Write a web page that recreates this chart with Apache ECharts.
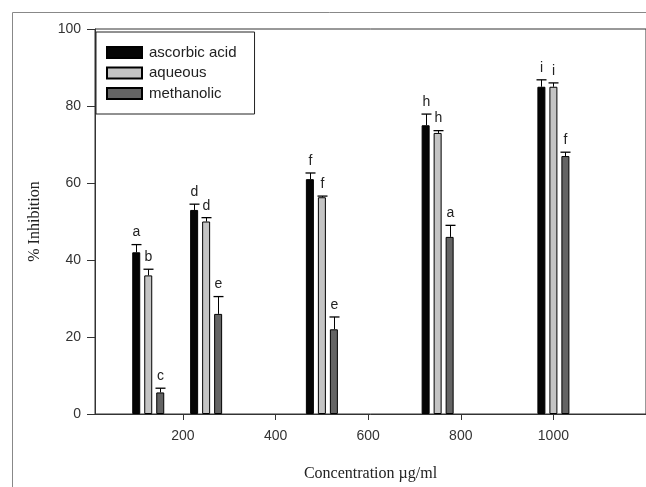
<!DOCTYPE html>
<html>
<head>
<meta charset="utf-8">
<script src="https://cdn.jsdelivr.net/npm/echarts@6/dist/echarts.min.js"></script>
<style>
  html, body { margin: 0; padding: 0; background: #fff; }
  #container { width: 646px; height: 487px; }
</style>
</head>
<body>
<div id="container"></div>
<script>
// concentrations (µg/ml) and readings
var concentrations = [125, 250, 500, 750, 1000];
var seriesNames = ['ascorbic acid', 'aqueous', 'methanolic'];
var ascorbic = [42, 53, 61, 75, 85];
var aqueous = [36, 50, 56.3, 73, 85];
var methanolic = [5.6, 26, 22, 46, 67];
var ascorbicErr = [2, 1.5, 1.6, 2.9, 1.8];
var aqueousErr = [1.6, 1, 0.3, 0.6, 1];
var methanolicErr = [1.1, 4.5, 3.2, 3, 1];
var ascorbicLetters = ['a', 'd', 'f', 'h', 'i'];
var aqueousLetters = ['b', 'd', 'f', 'h', 'i'];
var methanolicLetters = ['c', 'e', 'e', 'a', 'f'];
var xTicks = [200, 400, 600, 800, 1000];
var yTicks = [0, 20, 40, 60, 80, 100];

var values = [ascorbic, aqueous, methanolic];
var errors = [ascorbicErr, aqueousErr, methanolicErr];
var letters = [ascorbicLetters, aqueousLetters, methanolicLetters];
var colors = ['#050505', '#c4c4c4', '#646464'];

var dom = document.getElementById('container');
var myChart = echarts.init(dom);

function barData(k) {
    var d = [];
    for (var i = 0; i < concentrations.length; i++) {
        d.push([concentrations[i], values[k][i]]);
    }
    return d;
}

function errData(k) {
    var d = [];
    for (var i = 0; i < concentrations.length; i++) {
        d.push([concentrations[i], values[k][i], errors[k][i]]);
    }
    return d;
}

// error bar + significance letter, shifted to sit on its bar
function errRender(k) {
    return function(params, api) {
        var off = (k - 1) * 12;
        var p0 = api.coord([api.value(0), api.value(1)]);
        var p1 = api.coord([api.value(0), api.value(1) + api.value(2)]);
        var cx = Math.round(p0[0] + off) + 0.5;
        return {
            type: 'group',
            children: [{
                type: 'line',
                shape: { x1: cx, y1: p0[1], x2: cx, y2: p1[1] },
                style: { stroke: '#000', lineWidth: 1 }
            }, {
                type: 'line',
                shape: { x1: cx - 5, y1: p1[1], x2: cx + 5, y2: p1[1] },
                style: { stroke: '#000', lineWidth: 1.3 }
            }, {
                type: 'text',
                x: cx,
                y: p1[1] - 5,
                style: {
                    text: letters[k][params.dataIndex],
                    textAlign: 'center',
                    textVerticalAlign: 'bottom',
                    fontSize: 14,
                    fontFamily: 'Liberation Sans',
                    fill: '#222'
                }
            }]
        };
    };
}

var series = [];
for (var k = 0; k < 3; k++) {
    series.push({
        name: seriesNames[k],
        type: 'bar',
        barWidth: 8,
        barGap: '50%',
        data: barData(k),
        itemStyle: { color: colors[k], borderColor: '#000', borderWidth: 1 }
    });
}
for (var k = 0; k < 3; k++) {
    series.push({
        type: 'custom',
        clip: false,
        encode: { x: 0, y: 1 },
        data: errData(k),
        renderItem: errRender(k)
    });
}

option = {
    animation: false,
    backgroundColor: '#fff',
    grid: {
        left: 95,
        top: 29,
        width: 563,
        height: 385,
        show: true,
        borderColor: '#333',
        borderWidth: 1
    },
    graphic: [{
        type: 'rect',
        shape: { x: 12.5, y: 12.5, width: 700, height: 600 },
        style: { fill: 'none', stroke: '#888', lineWidth: 1 },
        z: -1
    }],
    legend: {
        data: seriesNames,
        orient: 'vertical',
        left: 96,
        top: 32,
        icon: 'rect',
        itemWidth: 35,
        itemHeight: 11,
        itemGap: 5.5,
        padding: [13, 18, 13, 10],
        borderColor: '#222',
        borderWidth: 1,
        borderRadius: 0,
        backgroundColor: '#fff',
        textStyle: {
            fontSize: 15,
            lineHeight: 15,
            fontFamily: 'Liberation Sans',
            color: '#222',
            padding: [0, 0, 0, 2]
        }
    },
    xAxis: {
        type: 'value',
        min: 10,
        max: 1200,
        name: 'Concentration µg/ml',
        nameLocation: 'middle',
        nameGap: 52,
        nameTextStyle: { fontFamily: 'Liberation Serif', fontSize: 16, color: '#222' },
        splitLine: { show: false },
        axisLine: { lineStyle: { color: '#333' } },
        axisTick: { length: 6, lineStyle: { color: '#333' }, customValues: xTicks },
        axisLabel: {
            customValues: xTicks,
            formatter: function(v) { return String(v); },
            margin: 15,
            fontSize: 14,
            fontFamily: 'Liberation Sans',
            color: '#333'
        }
    },
    yAxis: {
        type: 'value',
        min: 0,
        max: 100,
        interval: 20,
        name: '% Inhibition',
        nameLocation: 'middle',
        nameGap: 52,
        nameTextStyle: { fontFamily: 'Liberation Serif', fontSize: 16, color: '#222' },
        splitLine: { show: false },
        axisLine: { show: true, lineStyle: { color: '#333' } },
        axisTick: { show: true, length: 8, lineStyle: { color: '#333' } },
        axisLabel: {
            margin: 14,
            fontSize: 14,
            fontFamily: 'Liberation Sans',
            color: '#333'
        }
    },
    series: series
};

if (option && typeof option === "object") {
    myChart.setOption(option, true);
}
</script>
</body>
</html>
